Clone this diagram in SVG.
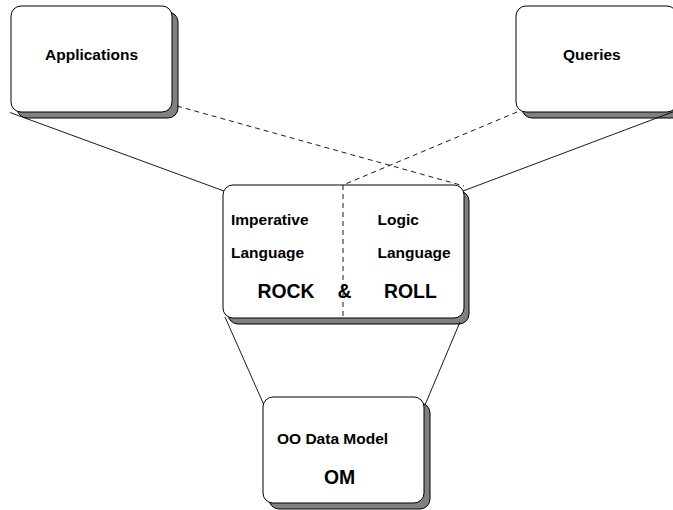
<svg xmlns="http://www.w3.org/2000/svg" width="673" height="510" viewBox="0 0 673 510">
<defs>
<style>
.box{fill:#ffffff;stroke:#000000;stroke-width:1}
.shadow{fill:#808080;stroke:#000000;stroke-width:1}
.lbl{font-family:"Liberation Sans",Arial,sans-serif;font-weight:bold;font-size:15.5px;fill:#000000}
.big{font-family:"Liberation Sans",Arial,sans-serif;font-weight:bold;font-size:19.4px;fill:#000000}
.solid{stroke:#000000;stroke-width:0.9;fill:none}
.dash{stroke:#000000;stroke-width:0.9;fill:none;stroke-dasharray:5 4}
</style>
</defs>
<rect width="673" height="510" fill="#ffffff"/>
<g id="applications">
<rect class="shadow" x="17" y="12" width="161" height="106" rx="10"/>
<rect class="box" x="11" y="6" width="161" height="106" rx="10"/>
<text class="lbl" x="45" y="60">Applications</text>
</g>
<g id="queries">
<rect class="shadow" x="522" y="12" width="161" height="106" rx="10"/>
<rect class="box" x="516" y="6" width="161" height="106" rx="10"/>
<text class="lbl" x="563" y="60">Queries</text>
</g>
<g id="rock-roll">
<rect class="shadow" x="228" y="191" width="241" height="133" rx="10"/>
<rect class="box" x="223" y="185" width="241" height="133" rx="10"/>
<text class="lbl" x="231" y="224.5">Imperative</text>
<text class="lbl" x="231" y="258">Language</text>
<text class="lbl" x="377.5" y="224.5">Logic</text>
<text class="lbl" x="377.5" y="258">Language</text>
<text class="big" x="257.5" y="297.5">ROCK</text>
<text class="big" x="337.5" y="297.5">&amp;</text>
<text class="big" x="384" y="297.5">ROLL</text>
</g>
<g id="om">
<rect class="shadow" x="269" y="403" width="161" height="106" rx="10"/>
<rect class="box" x="263" y="397" width="161" height="106" rx="10"/>
<text class="lbl" x="277" y="443.5">OO Data Model</text>
<text class="big" x="324" y="484">OM</text>
</g>
<g id="connectors">
<line class="solid" x1="10" y1="112.5" x2="224" y2="191"/>
<line class="solid" x1="678" y1="110" x2="463" y2="191"/>
<line class="dash" x1="177" y1="106" x2="464" y2="186"/>
<line class="dash" x1="517" y1="112" x2="343" y2="185"/>
<line class="dash" x1="343" y1="185" x2="343" y2="318"/>
<line class="solid" x1="225" y1="317" x2="263.5" y2="404"/>
<line class="solid" x1="460" y1="322" x2="425" y2="405"/>
</g>
</svg>
